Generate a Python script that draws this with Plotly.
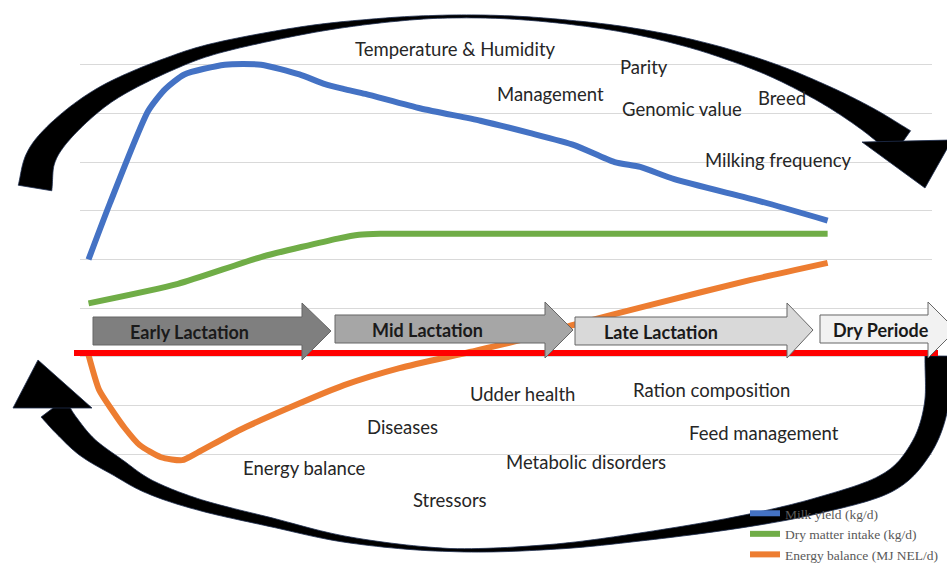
import numpy as np
import plotly.graph_objects as go

# ---------------- data ----------------
milk_days = [4, 14, 32, 40, 49, 68, 85, 103, 115, 124, 134, 160, 188, 211, 232, 251, 263, 279, 319, 351]
milk_yield = [50, 61.5, 80.5, 85, 88, 90, 90, 88, 86, 85, 84, 81, 78.5, 76, 73.5, 70, 69, 66.5, 62, 58]

dmi_days = [4, 46, 85, 121, 131, 141, 351]
dmi = [41, 45, 50.5, 54.3, 55.1, 55.3, 55.3]

eb_days = [4, 9, 15, 21, 28, 38, 48, 55, 75, 99, 124, 150, 183, 211, 232, 268, 315, 351]
energy_balance = [30.4, 23.2, 19.1, 15.4, 11.9, 9.4, 8.8, 10.3, 15.0, 19.7, 24.2, 27.7, 31.0, 33.9, 36.6, 40.7, 45.8, 49.3]

series_names = ["Milk yield (kg/d)", "Dry matter intake (kg/d)", "Energy balance (MJ NEL/d)"]
series_colors = ["#4472c4", "#70ad47", "#ed7d31"]

phase_labels = ["Early Lactation", "Mid Lactation", "Late Lactation", "Dry Periode"]
phase_fills = ["#7f7f7f", "#a6a6a6", "#d9d9d9", "#f2f2f2"]

factor_labels = ["Temperature & Humidity", "Parity", "Management", "Genomic value", "Breed",
                 "Milking frequency", "Udder health", "Ration composition", "Diseases",
                 "Feed management", "Energy balance", "Metabolic disorders", "Stressors"]

# ---------------- layout geometry (pixels) ----------------
W, H = 947, 565
ML, MR, MT, MB = 80, 15, 16, 62
PW = W - ML - MR
PH = H - MT - MB


def pxx(x):
    return (x - ML) / PW


def pxy(y):
    return (H - MB - y) / PH


def path_from(points, close=True):
    s = "M " + " L ".join(f"{pxx(x):.5f},{pxy(y):.5f}" for x, y in points)
    return s + (" Z" if close else "")


def catmull(points, n=14):
    P = np.array(points, float)
    P = np.vstack([2 * P[0] - P[1], P, 2 * P[-1] - P[-2]])
    out = []
    for i in range(1, len(P) - 2):
        p0, p1, p2, p3 = P[i - 1], P[i], P[i + 1], P[i + 2]
        for t in np.linspace(0, 1, n, endpoint=False):
            t2, t3 = t * t, t * t * t
            out.append(0.5 * ((2 * p1) + (-p0 + p2) * t + (2 * p0 - 5 * p1 + 4 * p2 - p3) * t2
                              + (-p0 + 3 * p1 - 3 * p2 + p3) * t3))
    out.append(P[-2])
    return np.array(out)


def band(points, widths, n=14):
    C = catmull(points, n)
    w = np.interp(np.linspace(0, len(widths) - 1, len(C)), np.arange(len(widths)), widths)
    d = np.gradient(C, axis=0)
    nrm = np.stack([-d[:, 1], d[:, 0]], 1)
    nrm /= np.linalg.norm(nrm, axis=1)[:, None]
    A = C + nrm * w[:, None] / 2
    Bp = C - nrm * w[:, None] / 2
    return np.vstack([A, Bp[::-1]])


shapes = []

# curved cycle arrows
top_pts = [(35, 188), (40, 160), (55, 137), (84, 110), (117, 88), (167, 65), (217, 48), (300, 31),
           (367, 22), (433, 17), (500, 17), (567, 22), (633, 31), (700, 46), (767, 68), (822, 93),
           (866, 118), (902, 143)]
top_w = [34, 30, 26, 22, 18, 14, 11, 8, 5, 3, 3, 4, 6, 9, 13, 18, 24, 30]
bot_pts = [(937, 356), (936, 407), (920, 450), (887, 483), (820, 505), (740, 522), (640, 537),
           (550, 547), (450, 550), (350, 540), (270, 522), (200, 505), (150, 487), (117, 467),
           (87, 447), (66, 425), (53, 408)]
bot_w = [24, 24, 22, 20, 16, 12, 8, 5, 3, 6, 9, 11, 14, 18, 22, 26, 30]

for pts, wd in [(top_pts, top_w), (bot_pts, bot_w)]:
    poly = band(pts, wd)
    shapes.append(dict(type="path", xref="paper", yref="paper", path=path_from(poly),
                       fillcolor="black", line=dict(color="#1f2f4f", width=0.8), layer="above"))

shapes.append(dict(type="path", xref="paper", yref="paper",
                   path=path_from([(862, 142), (952, 140), (925, 188)]),
                   fillcolor="black", line=dict(color="#1f2f4f", width=0.8), layer="above"))
shapes.append(dict(type="path", xref="paper", yref="paper",
                   path=path_from([(13, 408), (92, 408), (38, 360)]),
                   fillcolor="black", line=dict(color="#1f2f4f", width=0.8), layer="above"))

# red zero line
shapes.append(dict(type="line", xref="paper", yref="paper", x0=pxx(74), x1=pxx(938),
                   y0=pxy(353), y1=pxy(353), line=dict(color="#ff0000", width=6), layer="above"))

# phase block arrows: left, body top, body bottom, head base, head top, head bottom, tip x, tip y
phase_geom = [(93, 317, 345, 302, 303, 360, 331, 331),
              (335, 315, 343, 545, 302, 358, 573, 330),
              (575, 317, 345, 787, 303, 358, 813, 330),
              (820, 315, 343, 928, 302, 358, 956, 330)]
phase_text_pos = [(189, 332), (427, 330), (661, 332), (881, 330)]

for (xl, yt, yb, xh, ht, hb, xt, ym), fc in zip(phase_geom, phase_fills):
    pts = [(xl, yt), (xh, yt), (xh, ht), (xt, ym), (xh, hb), (xh, yb), (xl, yb)]
    shapes.append(dict(type="path", xref="paper", yref="paper", path=path_from(pts),
                       fillcolor=fc, line=dict(color="#666666", width=1), layer="above"))

annotations = []
for lab, (x, y) in zip(phase_labels, phase_text_pos):
    annotations.append(dict(x=pxx(x), y=pxy(y), xref="paper", yref="paper", text=f"<b>{lab}</b>",
                            showarrow=False, font=dict(family="Lato", size=18, color="#1a1a1a"),
                            xanchor="center", yanchor="middle"))

factor_pos = [(455, 49), (644, 67), (550, 94), (682, 109), (782, 98), (778, 160), (522, 394),
              (711, 390), (402, 427), (764, 433), (304, 468), (586, 462), (450, 500)]
for lab, (x, y) in zip(factor_labels, factor_pos):
    annotations.append(dict(x=pxx(x), y=pxy(y), xref="paper", yref="paper", text=lab,
                            showarrow=False, font=dict(family="Lato", size=18.5, color="#262626"),
                            xanchor="center", yanchor="middle"))

fig = go.Figure()
for xs, ys, nm, col in [(milk_days, milk_yield, series_names[0], series_colors[0]),
                        (dmi_days, dmi, series_names[1], series_colors[1]),
                        (eb_days, energy_balance, series_names[2], series_colors[2])]:
    fig.add_trace(go.Scatter(x=xs, y=ys, name=nm, mode="lines",
                             line=dict(color=col, width=6, shape="spline", smoothing=0.6)))

fig.update_layout(
    width=W, height=H, autosize=False,
    margin=dict(l=ML, r=MR, t=MT, b=MB, pad=0, autoexpand=False),
    paper_bgcolor="white", plot_bgcolor="white",
    xaxis=dict(range=[0, 400], showgrid=False, zeroline=False, showticklabels=False,
               showline=False, ticks=""),
    yaxis=dict(range=[0, 100], dtick=10, showgrid=True, gridcolor="#d9d9d9", gridwidth=1,
               zeroline=False, showticklabels=False, showline=False, ticks=""),
    showlegend=True,
    legend=dict(x=pxx(745), y=pxy(498), xanchor="left", yanchor="top",
                font=dict(family="Liberation Serif", size=13.5, color="#595959"),
                bgcolor="rgba(0,0,0,0)", tracegroupgap=0, itemwidth=30),
    shapes=shapes,
    annotations=annotations,
)

fig.write_html("out.html", config={"displayModeBar": False},
               post_script="document.body.style.margin='0';document.body.style.overflow='hidden';")
